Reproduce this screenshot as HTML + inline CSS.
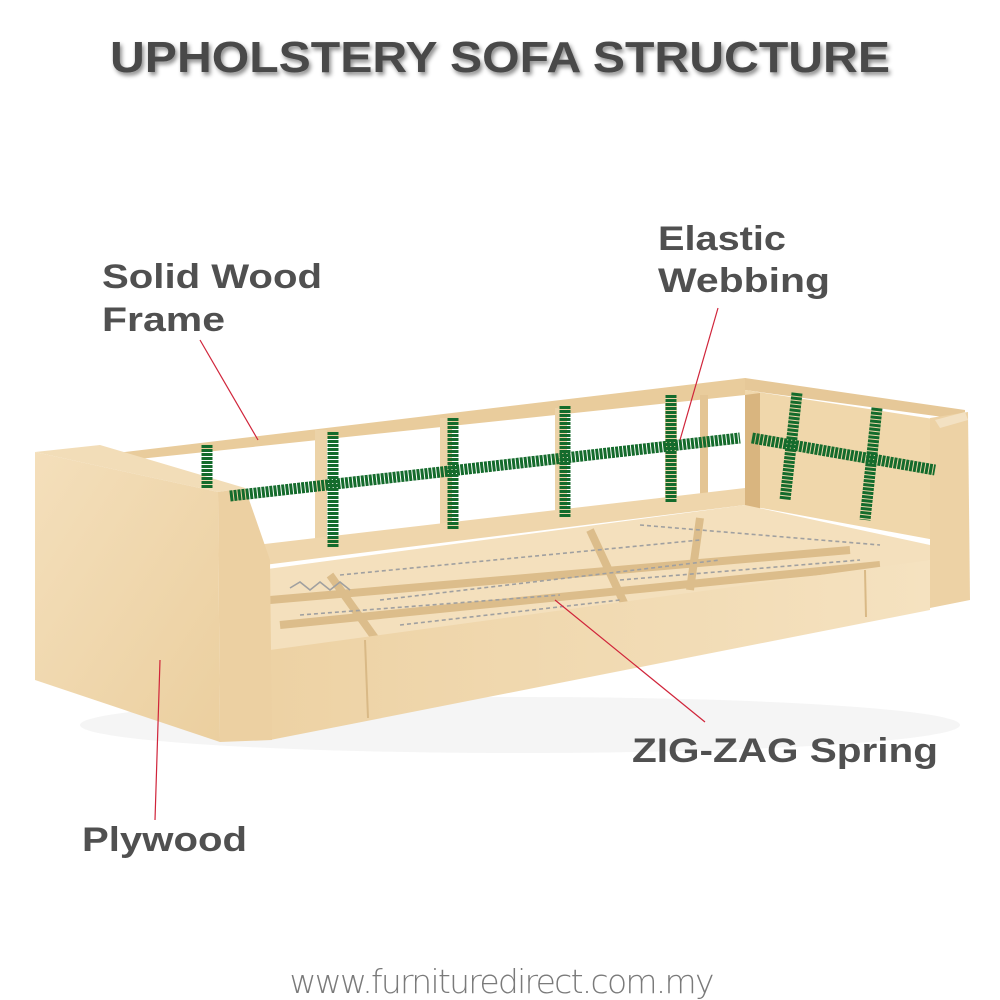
<!DOCTYPE html>
<html><head><meta charset="utf-8"><style>
html,body{margin:0;padding:0;background:#fff;width:1000px;height:1000px;overflow:hidden}
svg{display:block}
</style></head><body>
<svg width="1000" height="1000" viewBox="0 0 1000 1000" xmlns="http://www.w3.org/2000/svg">
<defs>
<linearGradient id="wood" x1="0" y1="0" x2="1" y2="1"><stop offset="0" stop-color="#f4dfbb"/><stop offset="1" stop-color="#ebcf9f"/></linearGradient>
<linearGradient id="wood2" x1="0" y1="0" x2="1" y2="0"><stop offset="0" stop-color="#edd2a4"/><stop offset="1" stop-color="#f5e2c0"/></linearGradient>
<filter id="sh"><feDropShadow dx="2" dy="3" stdDeviation="2" flood-color="#000" flood-opacity="0.45"/></filter>
</defs>
<text x="110" y="72" textLength="780" lengthAdjust="spacingAndGlyphs" font-family="Liberation Sans, sans-serif" font-weight="bold" font-size="44" fill="#4a4a4a" filter="url(#sh)">UPHOLSTERY SOFA STRUCTURE</text>

<ellipse cx="520" cy="725" rx="440" ry="28" fill="#f5f5f5"/>
<polygon points="100,455 745,378 745,395 110,462" fill="#e9cc9c"/>
<polygon points="745,378 965,410 965,420 745,390" fill="#e6c898"/>
<rect x="315" y="430" width="12" height="120" fill="#ecd3a8"/>
<rect x="440" y="418" width="12" height="118" fill="#ecd3a8"/>
<rect x="555" y="408" width="12" height="118" fill="#ecd3a8"/>
<rect x="665" y="398" width="12" height="110" fill="#ecd3a8"/>
<rect x="700" y="395" width="8" height="110" fill="#e4c594"/>
<polygon points="230,548 745,488 745,505 240,568" fill="#efd6ac"/>
<polygon points="745,390 940,420 935,540 745,505" fill="#f0d7ab"/>
<polygon points="745,395 760,393 760,510 745,507" fill="#d9b57f"/>
<polygon points="260,570 745,505 930,545 930,565 370,650 270,650" fill="#f4e0bd"/>
<g stroke="#dcbd8b" stroke-width="8" fill="none">
<line x1="270" y1="600" x2="850" y2="550"/>
<line x1="280" y1="625" x2="880" y2="565"/>
<line x1="330" y1="575" x2="380" y2="645"/>
<line x1="590" y1="530" x2="625" y2="605"/>
<line x1="700" y1="518" x2="690" y2="590"/>
</g>
<g stroke="#a0a0a0" stroke-width="1.6" fill="none">
<polyline points="290,588 300,582 310,590 320,582 330,590 340,582 350,590"/>
<polyline points="340,575 700,540" stroke-dasharray="4 3"/>
<polyline points="380,600 720,560" stroke-dasharray="4 3"/>
<polyline points="300,615 560,595" stroke-dasharray="4 3"/>
<polyline points="400,625 620,600" stroke-dasharray="4 3"/>
<polyline points="620,580 860,560" stroke-dasharray="4 3"/>
<polyline points="640,525 880,545" stroke-dasharray="4 3"/>
</g>
<polygon points="270,650 930,560 930,610 270,740" fill="url(#wood2)"/>
<line x1="365" y1="640" x2="368" y2="718" stroke="#d9b986" stroke-width="2"/>
<line x1="865" y1="570" x2="866" y2="617" stroke="#d9b986" stroke-width="2"/>
<polygon points="930,418 968,412 970,600 930,608" fill="#edd2a5"/>
<polygon points="935,420 965,412 968,420 940,428" fill="#f3e1c2"/>
<polygon points="35,452 100,445 245,488 218,492" fill="#f2ddb8"/>
<polygon points="35,452 218,492 220,742 35,680" fill="url(#wood)"/>
<polygon points="218,492 245,488 270,560 272,740 220,742" fill="#ecd0a2"/>

<g stroke="#146b2c" stroke-width="11" fill="none" stroke-dasharray="3 1">
<line x1="230" y1="496" x2="740" y2="438"/>
<line x1="752" y1="438" x2="935" y2="470"/>
<line x1="207" y1="445" x2="207" y2="488"/>
<line x1="333" y1="432" x2="333" y2="548"/>
<line x1="453" y1="418" x2="453" y2="530"/>
<line x1="565" y1="406" x2="565" y2="518"/>
<line x1="671" y1="395" x2="671" y2="502"/>
<line x1="797" y1="393" x2="785" y2="500"/>
<line x1="877" y1="408" x2="865" y2="520"/>
</g>

<g stroke="#d0243a" stroke-width="1.2">
<line x1="200" y1="340" x2="258" y2="440"/>
<line x1="718" y1="308" x2="680" y2="440"/>
<line x1="555" y1="600" x2="705" y2="722"/>
<line x1="160" y1="660" x2="155" y2="820"/>
</g>

<g font-family="Liberation Sans, sans-serif" font-weight="bold" font-size="34" fill="#505050" lengthAdjust="spacingAndGlyphs">
<text x="102" y="288" textLength="220" lengthAdjust="spacingAndGlyphs">Solid Wood</text>
<text x="102" y="331" textLength="123" lengthAdjust="spacingAndGlyphs">Frame</text>
<text x="658" y="250" textLength="128" lengthAdjust="spacingAndGlyphs">Elastic</text>
<text x="658" y="292" textLength="172" lengthAdjust="spacingAndGlyphs">Webbing</text>
<text x="632" y="762" textLength="306" lengthAdjust="spacingAndGlyphs">ZIG-ZAG Spring</text>
<text x="82" y="851" textLength="165" lengthAdjust="spacingAndGlyphs">Plywood</text>
</g>
<text x="502" y="993" text-anchor="middle" font-family="DejaVu Sans, Liberation Sans, sans-serif" font-weight="200" font-size="33" fill="#7a7a7a" textLength="425">www.furnituredirect.com.my</text>
</svg>
</body></html>
